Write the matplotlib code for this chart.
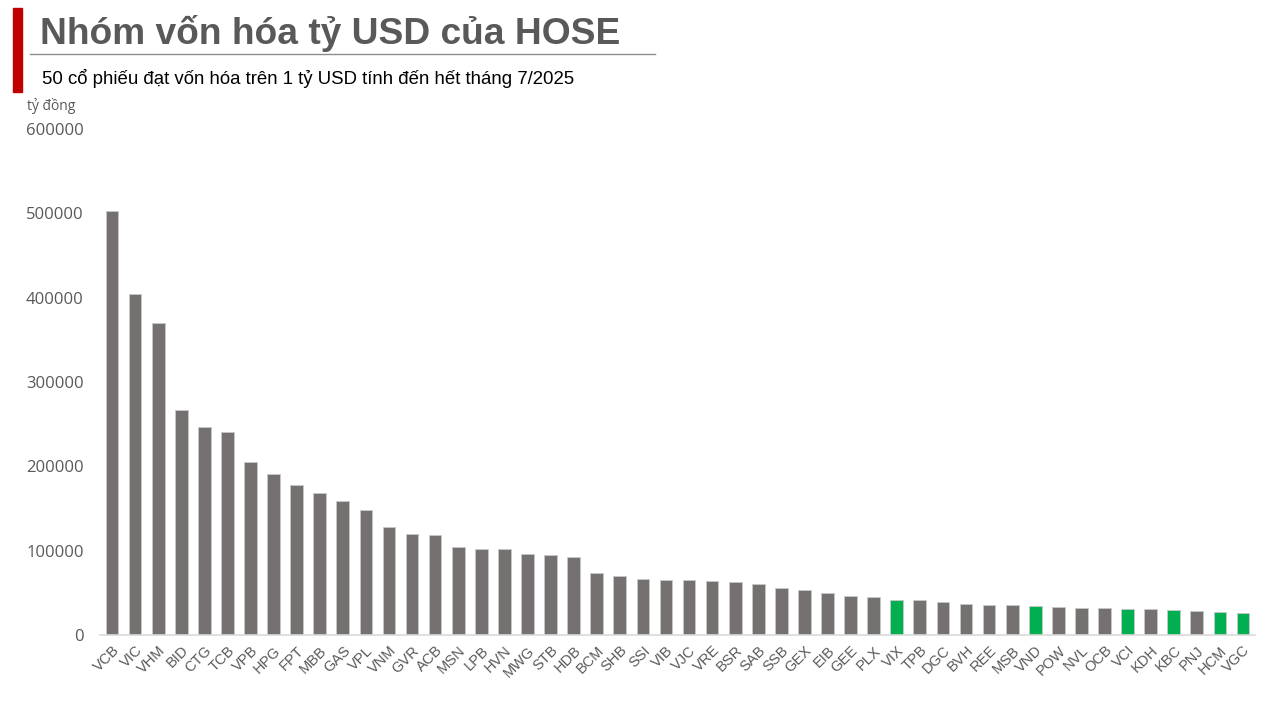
import matplotlib.pyplot as plt
from matplotlib.lines import Line2D
from matplotlib.patches import Rectangle

# Tickers and market cap (ty dong)
tickers = ["VCB", "VIC", "VHM", "BID", "CTG", "TCB", "VPB", "HPG", "FPT", "MBB",
           "GAS", "VPL", "VNM", "GVR", "ACB", "MSN", "LPB", "HVN", "MWG", "STB",
           "HDB", "BCM", "SHB", "SSI", "VIB", "VJC", "VRE", "BSR", "SAB", "SSB",
           "GEX", "EIB", "GEE", "PLX", "VIX", "TPB", "DGC", "BVH", "REE", "MSB",
           "VND", "POW", "NVL", "OCB", "VCI", "KDH", "KBC", "PNJ", "HCM", "VGC"]
market_cap = [502600, 403800, 369900, 266200, 246600, 240700, 205200, 191400, 178000, 168100,
              158600, 148500, 127800, 119800, 118600, 104000, 101600, 101600, 96500, 94500,
              92500, 73900, 70000, 66800, 65200, 65200, 64000, 63300, 60900, 55400,
              53800, 50200, 46300, 45500, 41900, 41100, 38800, 36400, 35600, 35600,
              34000, 33200, 31600, 31600, 30500, 30500, 29700, 28100, 27300, 26500]
highlight = ["VIX", "VND", "VCI", "KBC", "HCM", "VGC"]
yticks = [0, 100000, 200000, 300000, 400000, 500000, 600000]

colors = ["#00B050" if t in highlight else "#767171" for t in tickers]

fig = plt.figure(figsize=(12.83, 7.15), dpi=100)
ax = fig.add_axes([0.0783, 0.1119, 0.8995, 0.7077])

ax.bar(range(len(tickers)), market_cap, width=0.55, color=colors,
       edgecolor="#C8C8C8", linewidth=0.6)
ax.set_xlim(-0.5, len(tickers) - 0.5)
ax.set_ylim(0, 600000)
ax.set_yticks(yticks)
ax.set_yticklabels([str(v) for v in yticks], fontsize=12, color="#595959",
                   family="Open Sans")
ax.set_xticks(range(len(tickers)))
ax.set_xticklabels(tickers, rotation=45, ha="right", rotation_mode="anchor",
                   fontsize=10.5, color="#595959", family="Liberation Sans")
ax.tick_params(axis="both", length=0)
ax.tick_params(axis="y", pad=12)
ax.tick_params(axis="x", pad=6)
for s in ["top", "right", "left"]:
    ax.spines[s].set_visible(False)
ax.spines["bottom"].set_color("#D9D9D9")
ax.spines["bottom"].set_linewidth(1.2)

# header
fig.patches.append(Rectangle((13 / 1283, 1 - 92 / 715), 9 / 1283, 84 / 715,
                             transform=fig.transFigure, color="#C00000"))
fig.lines.append(Line2D([30 / 1283, 655 / 1283], [1 - 54 / 715, 1 - 54 / 715],
                        transform=fig.transFigure, color="#8C8C8C", linewidth=1))
fig.text(40 / 1283, 1 - 33 / 715, "Nhóm vốn hóa tỷ USD của HOSE", fontsize=26.7,
         fontweight="bold", color="#595959", family="Liberation Sans", va="center")
fig.text(42 / 1283, 1 - 79 / 715,
         "50 cổ phiếu đạt vốn hóa trên 1 tỷ USD tính đến hết tháng 7/2025",
         fontsize=13.45, color="black", family="Liberation Sans", va="center")
fig.text(27 / 1283, 1 - 106 / 715, "tỷ đồng", fontsize=10, color="#595959",
         family="Open Sans", va="center")

fig.savefig("out.png", dpi=100, facecolor="white")
